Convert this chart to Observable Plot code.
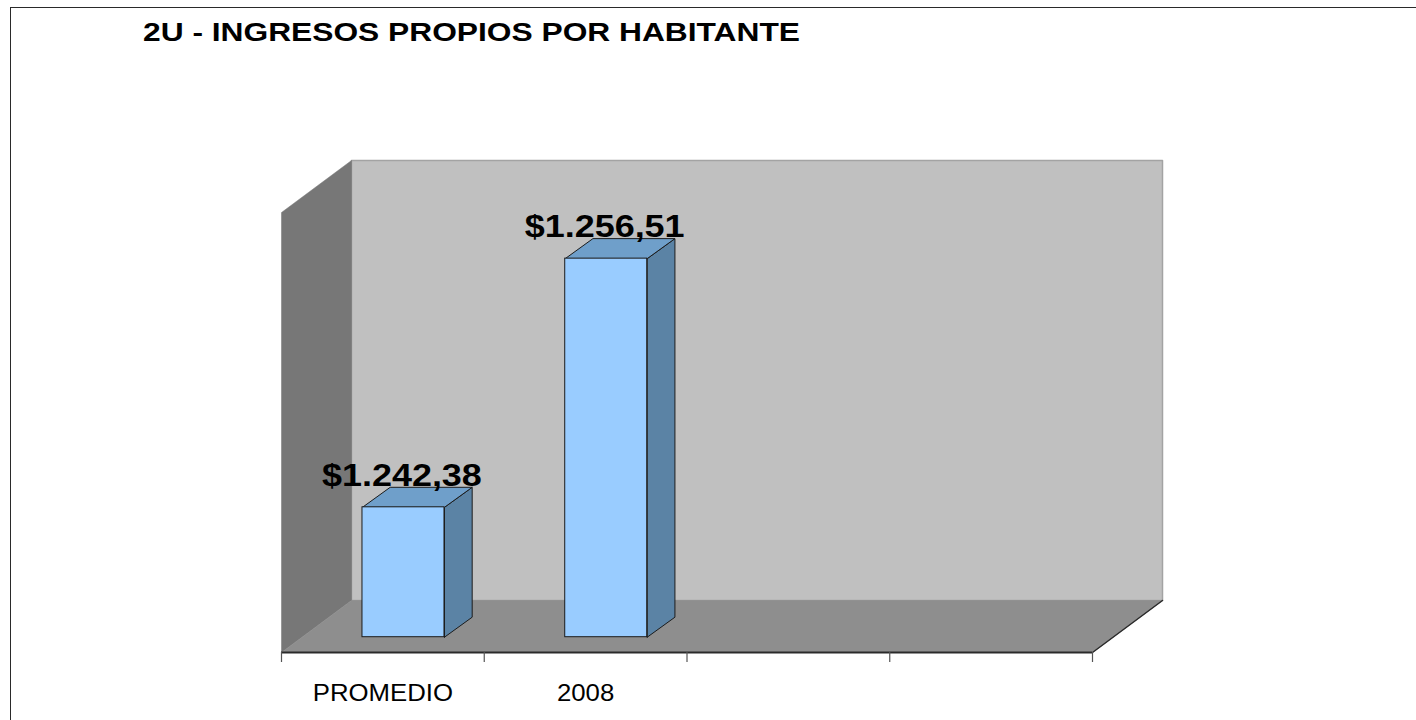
<!DOCTYPE html>
<html><head><meta charset="utf-8">
<script src="https://cdn.jsdelivr.net/npm/d3@7"></script>
<script src="https://cdn.jsdelivr.net/npm/@observablehq/plot@0.6"></script>
<style>
html,body{margin:0;padding:0;background:#fff;overflow:hidden;}
#wrap{position:relative;width:1416px;height:720px;overflow:hidden;}
#frame{position:absolute;left:10px;top:7px;width:1500px;height:800px;border:1.5px solid #2a2a2a;box-sizing:border-box;}
#title{position:absolute;left:142.5px;top:19.5px;font:bold 25px "Liberation Sans",Arial,sans-serif;line-height:25px;white-space:nowrap;transform-origin:0 0;color:#000;}
#chart{position:absolute;left:0;top:0;}
</style></head><body>
<div id="wrap"><div id="frame"></div><div id="chart"></div><div id="title"></div></div>
<script>
// ---- data ----
const title = "2U - INGRESOS PROPIOS POR HABITANTE";
const categories = ["PROMEDIO", "2008", "", ""];
const values = [1242.38, 1256.51];
const valueLabels = ["$1.242,38", "$1.256,51"];
const yDomain = [1235, 1260];

// ---- styling / geometry ----
const FONT = '"Liberation Sans", Arial, sans-serif';
const W = 1416, H = 720;
const mL = 281, mR = 324, mT = 212, mB = 68;
const nCat = categories.length;
const kx = nCat / (W - mL - mR);               // data units per px (x)
const ky = (yDomain[1] - yDomain[0]) / (H - mT - mB); // data units per px (y)
const WX = 70, WY = 52;      // wall depth (px)
const FX = 20.6, FY = 15.3;  // bar front-face shift (px)
const BX = 27.7, BY = 20;    // bar depth (px)
const HALF = 41;             // bar half width (px)
const y0 = yDomain[0], y1 = yDomain[1];

const P = (x, y) => ({x, y});
const close = pts => [...pts, pts[0]];

const backWall = close([P(WX*kx, y0+WY*ky), P(nCat+WX*kx, y0+WY*ky), P(nCat+WX*kx, y1+WY*ky), P(WX*kx, y1+WY*ky)]);
const leftWall = close([P(0, y0), P(0, y1), P(WX*kx, y1+WY*ky), P(WX*kx, y0+WY*ky)]);
const floor = close([P(0, y0), P(nCat, y0), P(nCat+WX*kx, y0+WY*ky), P(WX*kx, y0+WY*ky)]);

const fronts = [], sides = [], tops = [];
values.forEach((v, i) => {
  const cx = i + 0.5;
  const L = cx + (FX - HALF) * kx, R = cx + (FX + HALF) * kx;
  const B = y0 + FY * ky, T = v + FY * ky;
  fronts.push({x1: L, x2: R, y1: B, y2: T});
  sides.push(...close([P(R, B), P(R, T), P(R + BX*kx, T + BY*ky), P(R + BX*kx, B + BY*ky)]).map(p => ({...p, id: i})));
  tops.push(...close([P(L, T), P(R, T), P(R + BX*kx, T + BY*ky), P(L + BX*kx, T + BY*ky)]).map(p => ({...p, id: i})));
});

const chart = Plot.plot({
  width: W, height: H,
  marginLeft: mL, marginRight: mR, marginTop: mT, marginBottom: mB,
  x: {type: "linear", domain: [0, nCat], axis: null},
  y: {type: "linear", domain: yDomain, axis: null},
  style: {background: "transparent", overflow: "visible"},
  marks: [
    Plot.line(backWall, {x: "x", y: "y", fill: "#c0c0c0", stroke: "#a3a3a3", strokeWidth: 1.5}),
    Plot.line(leftWall, {x: "x", y: "y", fill: "#777777", stroke: "#777777", strokeWidth: 0.5}),
    Plot.line(floor, {x: "x", y: "y", fill: "#8e8e8e", stroke: "#8a8a8a", strokeWidth: 0.5}),
    Plot.ruleY([y0], {x1: 0, x2: nCat, stroke: "#2a2a2a", strokeWidth: 2}),
    Plot.line([P(nCat, y0), P(nCat + WX*kx, y0 + WY*ky)], {x: "x", y: "y", stroke: "#2a2a2a", strokeWidth: 1.5}),
    Plot.ruleX(d3.range(nCat + 1), {x: d => d, y1: y0, y2: y0 - 10*ky, stroke: "#555", strokeWidth: 1.2}),
    Plot.line(sides, {x: "x", y: "y", z: "id", fill: "#5b83a5", stroke: "#1c1c1c", strokeWidth: 1, strokeLinejoin: "round"}),
    Plot.line(tops, {x: "x", y: "y", z: "id", fill: "#6f9fca", stroke: "#1c1c1c", strokeWidth: 1, strokeLinejoin: "round"}),
    Plot.rect(fronts, {x1: "x1", x2: "x2", y1: "y1", y2: "y2", fill: "#99ccff", stroke: "#1c1c1c", strokeWidth: 1}),
    Plot.text(categories, {x: (d, i) => i + 0.5, y: y0, text: d => d, dy: 48, lineAnchor: "bottom",
      fontSize: 23, fontFamily: FONT, fill: "#000", className: "xlab"}),
    Plot.text(values, {x: (d, i) => i + 0.5, y: d => d, text: (d, i) => valueLabels[i], dx: 19, dy: -36.8,
      lineAnchor: "bottom", fontSize: 31, fontWeight: "bold", fontFamily: FONT, fill: "#000", className: "vlab"})
  ]
});
document.getElementById("chart").append(chart);

// horizontal stretch to mimic the stretched original
function stretch(sel, f) {
  chart.querySelectorAll(sel).forEach(t => {
    const w = t.getComputedTextLength();
    if (w > 0) { t.setAttribute("textLength", w * f); t.setAttribute("lengthAdjust", "spacingAndGlyphs"); }
  });
}
stretch(".xlab text", 1.12);
stretch(".vlab text", 1.16);

const tEl = document.getElementById("title");
tEl.textContent = title;
const tw = tEl.getBoundingClientRect().width;
tEl.style.transform = `scaleX(${657 / tw})`;
</script>
</body></html>
